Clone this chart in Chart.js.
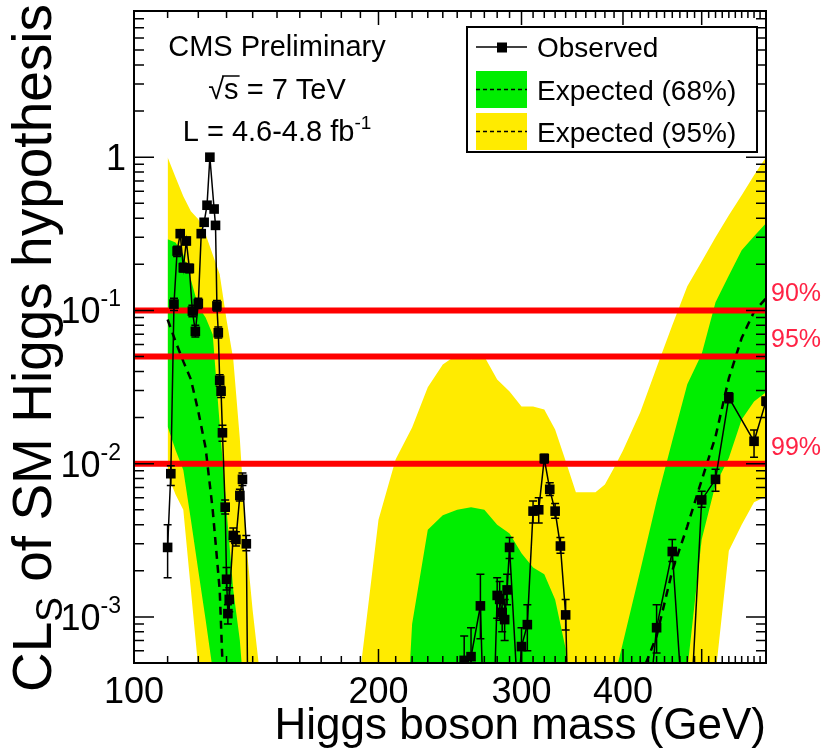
<!DOCTYPE html>
<html>
<head>
<meta charset="utf-8">
<script src="https://cdn.jsdelivr.net/npm/chart.js@4.4.0/dist/chart.umd.min.js"></script>
<style>
  html, body { margin: 0; padding: 0; background: #fff; }
  canvas { display: block; }
</style>
</head>
<body>
<canvas id="c" width="825" height="756" style="width:825px;height:756px"></canvas>
<script>
// Expected bands (CLs vs Higgs mass)
const bandMass = [110, 112.5, 115, 117.5, 120, 122.5, 125, 127.5, 130, 132.5, 135, 137.5, 140, 142.5, 145,
  150, 160, 170, 180, 190, 195, 200,
  210, 220, 230, 240, 250, 260, 270, 280, 290, 300, 310, 320, 330, 340, 350, 360, 370, 380, 390, 400,
  420, 440, 460, 480, 500, 520, 540, 560, 580, 600];
const yellowHi = [1.0, 0.74, 0.556, 0.444, 0.393, 0.314, 0.232, 0.172, 0.087, 0.048, 0.0145, 0.003, 0.0011, 0.00048, 1e-6,
  1e-6, 1e-6, 1e-6, 1e-6, 0.00045, 0.0014, 0.0043,
  0.0107, 0.0172, 0.0315, 0.0443, 0.0515, 0.048, 0.05, 0.0354, 0.0296, 0.0236, 0.0236, 0.0226, 0.0167, 0.0104, 0.0065, 0.0065, 0.0065, 0.0073, 0.0094, 0.0122,
  0.0216, 0.0424, 0.080, 0.144, 0.209, 0.30, 0.418, 0.565, 0.763, 1.0];
const yellowLo = [0.0085, 0.0063, 0.005, 0.0015, 0.00046, 1e-6, 1e-6, 1e-6, 1e-6, 1e-6, 1e-6, 1e-6, 1e-6, 1e-6, 1e-6,
  1e-6, 1e-6, 1e-6, 1e-6, 1e-6, 1e-6, 1e-6,
  1e-6, 1e-6, 1e-6, 1e-6, 1e-6, 1e-6, 1e-6, 1e-6, 1e-6, 1e-6, 1e-6, 1e-6, 1e-6, 1e-6, 1e-6, 1e-6, 1e-6, 1e-6, 1e-6, 1e-6,
  1e-6, 1e-6, 1e-6, 1e-6, 1e-6, 0.00042, 0.0027, 0.004, 0.0056, 0.0061];
const greenHi = [0.291, 0.278, 0.232, 0.159, 0.106, 0.09, 0.0696, 0.018, 0.005, 0.0015, 0.0007, 0.0002, 1e-6, 1e-6, 1e-6,
  1e-6, 1e-6, 1e-6, 1e-6, 1e-6, 1e-6, 1e-6,
  1e-5, 0.0009, 0.0037, 0.0046, 0.005, 0.0052, 0.005, 0.004, 0.0035, 0.0026, 0.0021, 0.0019, 0.0013, 0.00062, 1e-6, 1e-6, 1e-6, 0.00021, 0.00039, 0.00068,
  0.002, 0.0057, 0.0141, 0.033, 0.052, 0.113, 0.169, 0.247, 0.305, 0.37];
const greenLo = [0.0175, 0.0123, 0.0091, 0.0043, 0.002, 0.00096, 0.00045, 1e-6, 1e-6, 1e-6, 1e-6, 1e-6, 1e-6, 1e-6, 1e-6,
  1e-6, 1e-6, 1e-6, 1e-6, 1e-6, 1e-6, 1e-6,
  1e-6, 1e-6, 1e-6, 1e-6, 1e-6, 1e-6, 1e-6, 1e-6, 1e-6, 1e-6, 1e-6, 1e-6, 1e-6, 1e-6, 1e-6, 1e-6, 1e-6, 1e-6, 1e-6, 1e-6,
  1e-6, 1e-6, 1e-6, 0.00045, 0.0032, 0.0073, 0.0109, 0.0194, 0.0254, 0.0292];
const expMedian = [0.0873, 0.0627, 0.0465, 0.0355, 0.0219, 0.0127, 0.005, 0.0015, 0.0001, 1e-6, 1e-6, 1e-6, 1e-6, 1e-6, 1e-6,
  1e-6, 1e-6, 1e-6, 1e-6, 1e-6, 1e-6, 1e-6,
  1e-6, 1e-6, 1e-6, 1e-6, 1e-6, 1e-6, 1e-6, 1e-6, 1e-6, 1e-6, 1e-6, 1e-6, 1e-6, 1e-6, 1e-6, 1e-6, 1e-6, 1e-6, 1e-6, 1e-6,
  0.0004, 0.00075, 0.002, 0.0039, 0.0078, 0.015, 0.036, 0.066, 0.098, 0.12];

// Observed CLs with error bars (null = bar not shown)
const obsMass = [110, 111, 112, 113, 114, 115, 116, 117, 118, 119, 120, 121, 122, 123, 124, 125.5, 126, 126.5, 127, 127.5,
  128, 128.5, 129.5, 130, 130.5, 131, 132.5, 133.5, 135, 136, 137.5, 140,
  250, 255, 260, 267, 270, 275, 280, 282, 284, 286, 288, 290, 297, 300, 305, 310, 315, 320, 325, 330, 335, 340, 350,
  400, 420, 440, 460, 480, 500, 520, 540, 580, 600];
const obsCL = [0.00284, 0.0086, 0.11, 0.244, 0.317, 0.19, 0.284, 0.188, 0.099, 0.073, 0.111, 0.317, 0.376, 0.486, 1.0, 0.459, 0.359, 0.107, 0.0715, 0.035,
  0.0297, 0.0159, 0.0052, 0.00176, 0.00105, 0.0013, 0.0034, 0.0032, 0.0062, 0.0079, 0.0030, 1e-7,
  1e-6, 0.00052, 0.00055, 0.00118, 0.00015, 0.00005, 0.00138, 0.0013, 0.00107, 0.00096, 0.0015, 0.00284, 0.00029, 0.00064, 0.00089, 0.0049, 0.005, 0.0108, 0.0068, 0.0049, 0.0029, 0.00103, 2e-6,
  1e-6, 7e-5, 0.00085, 0.00267, 8.8e-5, 0.0058, 0.0079, 0.027, 0.014, 0.0256];
const obsErrLo = [0.0018, 0.0072, 0.10, 0.225, 0.30, 0.178, 0.268, 0.176, 0.091, 0.067, 0.103, 0.30, 0.355, 0.465, 0.98, 0.44, 0.34, 0.099, 0.066, 0.032,
  0.027, 0.014, 0.0047, 0.0015, 0.0009, 0.00108, 0.0031, 0.0029, 0.0057, 0.0072, 0.0027, null,
  null, 0.0004, 0.00042, 0.00072, null, null, 0.00098, 0.00095, 0.0008, 0.0007, 0.0012, 0.0024, null, 0.00048, 0.0006, 0.0041, 0.0041, 0.0101, 0.0062, 0.0044, 0.0026, 0.00082, null,
  null, null, 0.00058, 0.0023, null, 0.0052, 0.0066, 0.025, 0.011, 0.024];
const obsErrHi = [0.0040, 0.0097, 0.12, 0.262, 0.335, 0.203, 0.30, 0.20, 0.108, 0.080, 0.12, 0.335, 0.395, 0.505, 1.02, 0.478, 0.378, 0.116, 0.078, 0.038,
  0.032, 0.0178, 0.0058, 0.0021, 0.0012, 0.00155, 0.0038, 0.0036, 0.0068, 0.0087, 0.0034, null,
  null, 0.00075, 0.00085, 0.0019, null, null, 0.0018, 0.0017, 0.0014, 0.0013, 0.0019, 0.0033, null, 0.00085, 0.0012, 0.0057, 0.006, 0.0115, 0.0075, 0.0055, 0.0033, 0.0013, null,
  null, null, 0.0012, 0.0032, null, 0.0066, 0.0092, 0.029, 0.0166, 0.027];

// Confidence-level reference lines
const clLevels = [0.1, 0.05, 0.01];
const clLabels = ['90%', '95%', '99%'];

// Axis labels
const xTickLabels = [100, 200, 300, 400];
const yTickExps = [-3, -2, -1, 0];

const FONT = '"Liberation Sans", Arial, Helvetica, sans-serif';
const YELLOW = '#ffeb00';
const GREEN = '#00ee00';
const RED = '#ff0000';

const pts = (xs, ys) => xs.map((m, i) => ({ x: m, y: ys[i] }));

// Draw base text plus a raised (or lowered) small part, returns end x
function drawScript(ctx, base, extra, x, y, size, extraSize, shift) {
    ctx.font = size + 'px ' + FONT;
    ctx.fillText(base, x, y);
    const w = ctx.measureText(base).width;
    ctx.font = extraSize + 'px ' + FONT;
    ctx.fillText(extra, x + w, y + shift);
    return x + w + ctx.measureText(extra).width;
}
function scriptWidth(ctx, base, extra, size, extraSize) {
    ctx.font = size + 'px ' + FONT;
    const w = ctx.measureText(base).width;
    ctx.font = extraSize + 'px ' + FONT;
    return w + ctx.measureText(extra).width;
}

const errorBars = {
    id: 'errorBars',
    afterDatasetsDraw(chart) {
        const { ctx, chartArea: a, scales: { x, y } } = chart;
        ctx.save();
        ctx.beginPath();
        ctx.rect(a.left, a.top, a.right - a.left, a.bottom - a.top);
        ctx.clip();
        ctx.strokeStyle = '#000';
        ctx.lineWidth = 1.5;
        ctx.beginPath();
        obsMass.forEach((m, i) => {
            if (obsErrLo[i] == null) return;
            const px = x.getPixelForValue(m);
            const lo = y.getPixelForValue(obsErrLo[i]);
            const hi = y.getPixelForValue(obsErrHi[i]);
            ctx.moveTo(px, lo); ctx.lineTo(px, hi);
            ctx.moveTo(px - 4, lo); ctx.lineTo(px + 4, lo);
            ctx.moveTo(px - 4, hi); ctx.lineTo(px + 4, hi);
        });
        ctx.stroke();
        ctx.restore();
    }
};

const decor = {
    id: 'decor',
    afterDraw(chart) {
        const { ctx, chartArea: a, scales: { x, y } } = chart;
        ctx.save();
        ctx.fillStyle = '#000';
        ctx.strokeStyle = '#000';

        // frame
        ctx.lineWidth = 2;
        ctx.strokeRect(a.left, a.top, a.right - a.left, a.bottom - a.top);

        // inside ticks on all four sides
        ctx.lineWidth = 1.5;
        ctx.beginPath();
        for (let e = -4; e <= 0; e++) {
            for (let k = 1; k <= 9; k++) {
                const v = k * Math.pow(10, e);
                if (v < y.min || v > y.max) continue;
                const py = y.getPixelForValue(v);
                const len = k === 1 ? 20 : 10;
                ctx.moveTo(a.left, py); ctx.lineTo(a.left + len, py);
                ctx.moveTo(a.right, py); ctx.lineTo(a.right - len, py);
            }
        }
        for (let v = 100; v <= 600; v += 10) {
            const px = x.getPixelForValue(v);
            const len = v % 100 === 0 ? 14 : 7;
            ctx.moveTo(px, a.bottom); ctx.lineTo(px, a.bottom - len);
            ctx.moveTo(px, a.top); ctx.lineTo(px, a.top + len);
        }
        ctx.stroke();

        // x tick labels
        ctx.font = '36px ' + FONT;
        ctx.textAlign = 'center';
        ctx.textBaseline = 'alphabetic';
        xTickLabels.forEach(v => ctx.fillText(String(v), x.getPixelForValue(v), a.bottom + 40));

        // y tick labels
        ctx.textAlign = 'left';
        yTickExps.forEach(ex => {
            const py = y.getPixelForValue(Math.pow(10, ex));
            if (ex === 0) {
                ctx.font = '36px ' + FONT;
                ctx.textAlign = 'right';
                ctx.fillText('1', 126, py + 13);
                ctx.textAlign = 'left';
            } else {
                const w = scriptWidth(ctx, '10', String(ex), 36, 23);
                drawScript(ctx, '10', String(ex), 121 - w, py + 13, 36, 23, -17);
            }
        });

        // axis titles
        ctx.font = '44px ' + FONT;
        ctx.textAlign = 'right';
        ctx.fillText('Higgs boson mass (GeV)', a.right, 739);

        ctx.save();
        ctx.translate(51, 692);
        ctx.rotate(-Math.PI / 2);
        ctx.textAlign = 'left';
        let cx = 0;
        ctx.font = '55px ' + FONT;
        ctx.fillText('CL', cx, 0);
        cx += ctx.measureText('CL').width;
        ctx.font = '37px ' + FONT;
        ctx.fillText('S', cx, 11);
        cx += ctx.measureText('S').width;
        ctx.font = '55px ' + FONT;
        ctx.fillText(' of SM Higgs hypothesis', cx, 0);
        ctx.restore();

        // CL level labels on the right
        ctx.fillStyle = '#ff2244';
        ctx.font = '25px ' + FONT;
        ctx.textAlign = 'left';
        ctx.textBaseline = 'middle';
        clLevels.forEach((v, i) => ctx.fillText(clLabels[i], a.right + 5, y.getPixelForValue(v) - 16));

        // CMS text block
        ctx.fillStyle = '#000';
        ctx.textBaseline = 'alphabetic';
        ctx.textAlign = 'center';
        ctx.font = '29px ' + FONT;
        ctx.fillText('CMS Preliminary', 277, 56);

        ctx.textAlign = 'left';
        const rootW = ctx.measureText('\u221A').width;
        const sW = ctx.measureText('s').width;
        const restW = ctx.measureText(' = 7 TeV').width;
        let sx = 277 - (rootW + sW + restW) / 2;
        ctx.fillText('\u221A', sx, 99);
        ctx.fillText('s', sx + rootW, 99);
        ctx.lineWidth = 1.5;
        ctx.beginPath();
        ctx.moveTo(sx + rootW - 2, 76); ctx.lineTo(sx + rootW + sW + 1, 76);
        ctx.stroke();
        ctx.fillText(' = 7 TeV', sx + rootW + sW, 99);

        const lw = scriptWidth(ctx, 'L = 4.6-4.8 fb', '-1', 29, 19);
        drawScript(ctx, 'L = 4.6-4.8 fb', '-1', 277 - lw / 2, 141, 29, 19, -12);

        // legend box
        ctx.fillStyle = '#fff';
        ctx.fillRect(467, 27, 290, 125);
        ctx.lineWidth = 2;
        ctx.strokeStyle = '#000';
        ctx.strokeRect(467, 27, 290, 125);

        ctx.lineWidth = 1.5;
        ctx.beginPath();
        ctx.moveTo(476, 47); ctx.lineTo(527, 47);
        ctx.stroke();
        ctx.fillStyle = '#000';
        ctx.fillRect(497, 42.5, 10, 10);

        ctx.fillStyle = GREEN;
        ctx.fillRect(476, 71, 51, 37);
        ctx.fillStyle = YELLOW;
        ctx.fillRect(476, 113, 51, 37);
        ctx.setLineDash([4, 3]);
        ctx.beginPath();
        ctx.moveTo(476, 89.5); ctx.lineTo(527, 89.5);
        ctx.moveTo(476, 131.5); ctx.lineTo(527, 131.5);
        ctx.stroke();
        ctx.setLineDash([]);

        ctx.fillStyle = '#000';
        ctx.font = '28px ' + FONT;
        ctx.fillText('Observed', 537, 57);
        ctx.fillText('Expected (68%)', 537, 100);
        ctx.fillText('Expected (95%)', 537, 142);

        ctx.restore();
    }
};

const bandLine = {
    borderColor: 'rgba(0,0,0,0)',
    borderWidth: 0,
    pointRadius: 0,
    clip: 0
};

const redLines = clLevels.map(v => ({
    label: 'CL ' + v,
    data: [{ x: 100, y: v }, { x: 600, y: v }],
    borderColor: RED,
    borderWidth: 6,
    pointRadius: 0,
    fill: false,
    clip: 0,
    order: 1
}));

new Chart(document.getElementById('c'), {
    type: 'line',
    data: {
        datasets: [
            {
                label: 'Observed',
                data: pts(obsMass, obsCL),
                borderColor: '#000',
                borderWidth: 1.5,
                pointStyle: 'rect',
                pointRadius: 6.8,
                pointBackgroundColor: '#000',
                pointBorderWidth: 0,
                fill: false,
                clip: 0,
                order: 0
            },
            ...redLines,
            {
                label: 'Expected median',
                data: pts(bandMass, expMedian),
                borderColor: '#000',
                borderWidth: 2.5,
                borderDash: [8, 6],
                pointRadius: 0,
                fill: false,
                clip: 0,
                order: 2
            },
            { ...bandLine, label: 'Expected 68% hi', data: pts(bandMass, greenHi), fill: 6, backgroundColor: GREEN, order: 3 },
            { ...bandLine, label: 'Expected 68% lo', data: pts(bandMass, greenLo), fill: false, order: 4 },
            { ...bandLine, label: 'Expected 95% hi', data: pts(bandMass, yellowHi), fill: 8, backgroundColor: YELLOW, order: 5 },
            { ...bandLine, label: 'Expected 95% lo', data: pts(bandMass, yellowLo), fill: false, order: 6 }
        ]
    },
    options: {
        responsive: false,
        animation: false,
        devicePixelRatio: 1,
        layout: { padding: { left: 134, right: 59, top: 11, bottom: 93 } },
        elements: { line: { tension: 0 } },
        scales: {
            x: { type: 'logarithmic', min: 100, max: 600, display: false },
            y: { type: 'logarithmic', min: 5e-4, max: 9, display: false }
        },
        plugins: {
            legend: { display: false },
            tooltip: { enabled: false }
        }
    },
    plugins: [errorBars, decor]
});
</script>
</body>
</html>
